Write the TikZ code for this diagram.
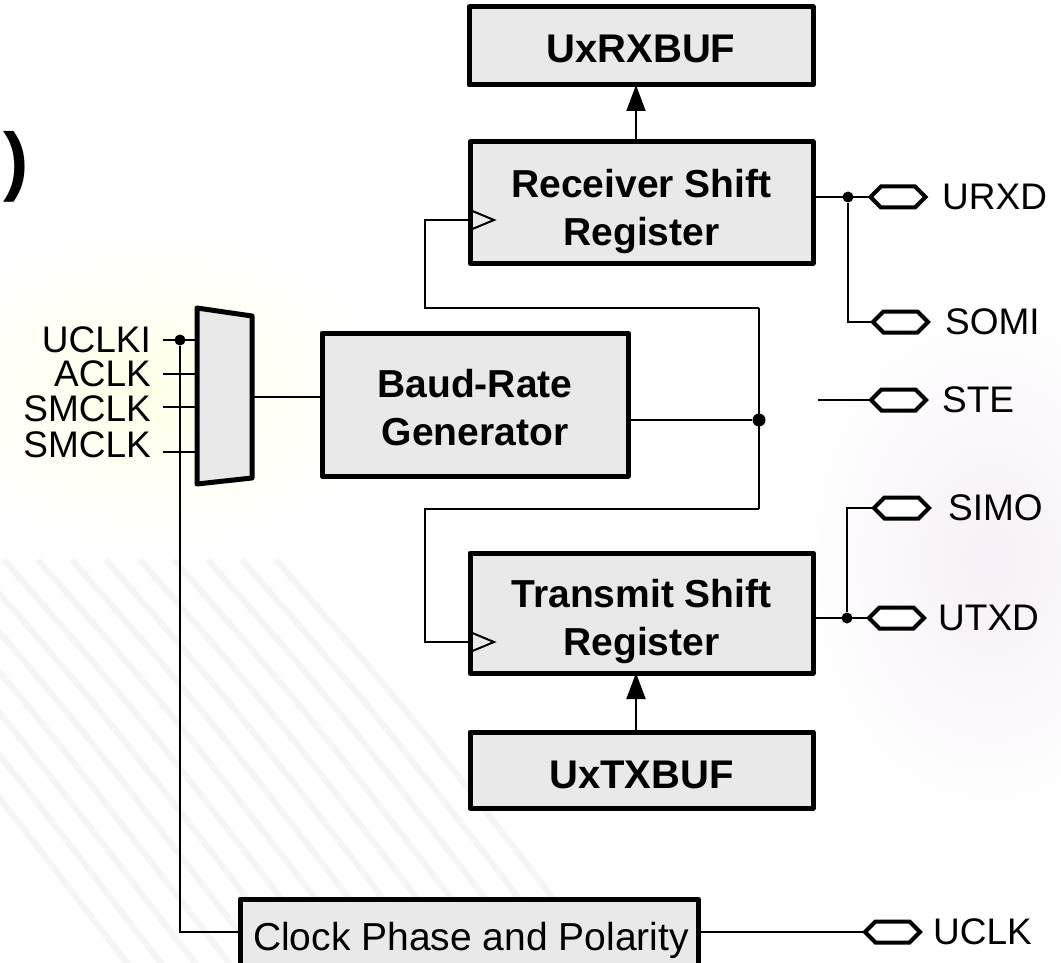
\documentclass[tikz,border=0pt]{standalone}
\usepackage{fontspec}
\setmainfont{Liberation Sans}
\usetikzlibrary{arrows.meta,shapes.symbols}
\definecolor{boxgray}{HTML}{E9E9E9}
\newcommand{\tworows}[2]{\rule{0pt}{30pt}#1\\#2\rule[-12pt]{0pt}{12pt}}
\begin{document}
\begin{tikzpicture}[x=1pt,y=-1pt,
  blk/.style={draw=black, line width=5pt, fill=boxgray, line join=round, inner sep=0pt, outer sep=0pt},
  wire/.style={line width=2pt},
  boxtxt/.style={font=\fontsize{39}{48}\selectfont\bfseries, align=center, inner sep=0pt},
  buftxt/.style={font=\fontsize{40}{48}\selectfont\bfseries, inner sep=0pt},
  lbl/.style={font=\fontsize{37}{44}\selectfont, inner sep=0pt},
  pinhex/.style={signal, signal to=west and east, signal pointer angle=90, draw=black,
    line width=4pt, fill=white, minimum width=55pt, minimum height=21pt, inner sep=0pt, outer sep=0pt},
  dot/.style={circle, fill=black, inner sep=0pt, minimum size=11pt},
  uparrow/.style={-{Triangle[length=26pt,width=19pt]}, line width=2pt},
]
\useasboundingbox (0,0) rectangle (1061,963);
\clip (0,0) rectangle (1061,963);

% soft slide background
\fill[white] (0,0) rectangle (1061,963);
\shade[inner color=yellow!9, outer color=white] (150,390) ellipse (240pt and 160pt);
\shade[inner color=violet!6, outer color=white] (990,560) ellipse (190pt and 260pt);
\foreach \i in {0,...,14}
  \draw[black!4, line width=6pt] (-200+\i*34,560) .. controls (-60+\i*34,720) .. (140+\i*34,980);

% title fragment at the left edge
\node[font=\fontsize{76}{80}\selectfont\bfseries, inner sep=0pt, anchor=base west] (paren) at (3,186) {)};

% main blocks
\node[blk, minimum width=344pt, minimum height=78pt] (rxbuf) at (641,46) {};
\node[buftxt, anchor=base] (rxbuft) at (641,63) {UxRXBUF};

\node[blk, minimum width=343pt, minimum height=121pt] (rx) at (641.5,202.5) {};
\node[boxtxt] (rxt) at (641.5,212) {\tworows{Receiver Shift}{Register}};

\node[blk, minimum width=306pt, minimum height=143pt] (baud) at (475,404.5) {};
\node[boxtxt] (baudt) at (475,412) {\tworows{Baud-Rate}{Generator}};

\node[blk, minimum width=343pt, minimum height=120pt] (tx) at (641.5,613) {};
\node[boxtxt] (txt) at (641.5,622) {\tworows{Transmit Shift}{Register}};

\node[blk, minimum width=343pt, minimum height=76pt] (txbuf) at (641.5,770) {};
\node[buftxt, anchor=base] (txbuft) at (641.5,788) {UxTXBUF};

\node[blk, minimum width=458pt, minimum height=76pt] (clk) at (469,937) {};
\node[lbl, font=\fontsize{39}{44}\selectfont, anchor=base] (clkt) at (471,950) {Clock Phase and Polarity};

% clock source selector
\coordinate (m1) at (197,340);
\coordinate (m2) at (197,374);
\coordinate (m3) at (197,407);
\coordinate (m4) at (197,452);
\coordinate (i1) at (163,340);
\coordinate (i2) at (163,374);
\coordinate (i3) at (163,407);
\coordinate (i4) at (163,452);
\draw[wire] (i1) -- (m1);
\draw[wire] (i2) -- (m2);
\draw[wire] (i3) -- (m3);
\draw[wire] (i4) -- (m4);
\node[dot, minimum size=11pt] (j0) at (180,340) {};
\coordinate (cpy) at (0,932);
\draw[wire] (j0) |- (clk.west |- cpy);
\draw[blk] (197,308) -- (252,316) -- (252,478) -- (197,484) -- cycle;
\node[lbl, anchor=base east] (l1) at (151,352) {UCLKI};
\node[lbl, anchor=base east] (l2) at (151,386) {ACLK};
\node[lbl, anchor=base east] (l3) at (151,421) {SMCLK};
\node[lbl, anchor=base east] (l4) at (151,457) {SMCLK};
\coordinate (mout) at (252,397);
\draw[wire] (mout) -- (baud.west |- mout);

% bit clock bus
\coordinate (btop) at (759,308);
\coordinate (bbot) at (759,509);
\coordinate (lx) at (425,0);
\node[dot, minimum size=13pt] (bus) at (759,420) {};
\draw[wire] (btop) -- (bbot);
\draw[wire] (baud.east |- bus) -- (bus);
\coordinate (cy1) at (0,220);
\coordinate (cy2) at (0,642);
\coordinate (rxclk) at (rx.west |- cy1);
\coordinate (txclk) at (tx.west |- cy2);
\draw[wire] (btop) -| (lx |- rxclk) -- (rxclk);
\draw[wire] (bbot) -| (lx |- txclk) -- (txclk);
\draw[wire, line join=miter] (rxclk) ++(0,-10) -- ++(24,10) -- ++(-24,10);
\draw[wire, line join=miter] (txclk) ++(0,-10) -- ++(24,10) -- ++(-24,10);

% buffer transfers
\coordinate (ax) at (636,0);
\draw[uparrow] (rx.north -| ax) -- (rxbuf.south -| ax);
\draw[uparrow] (txbuf.north -| ax) -- (tx.south -| ax);

% external pins
\node[pinhex] (urxd) at (898,197) {};
\node[pinhex] (somi) at (900.5,322) {};
\node[pinhex] (ste) at (898.5,400) {};
\node[pinhex] (simo) at (901.5,508) {};
\node[pinhex] (utxd) at (896.5,618) {};
\node[pinhex] (uclk) at (892.5,932) {};
\node[lbl, anchor=base west] (urxdt) at (942,209) {URXD};
\node[lbl, anchor=base west] (somit) at (945,334) {SOMI};
\node[lbl, anchor=base west] (stet) at (942,412) {STE};
\node[lbl, anchor=base west] (simot) at (948,520) {SIMO};
\node[lbl, anchor=base west] (utxdt) at (938,630) {UTXD};
\node[lbl, anchor=base west] (uclkt) at (933,944) {UCLK};

\node[dot, minimum size=11pt] (j1) at (848,197) {};
\draw[wire] (rx.east |- urxd) -- (urxd.west);
\draw[wire] (j1) |- (somi.west);
\coordinate (stein) at (818,400);
\draw[wire] (stein) -- (ste.west);
\node[dot, minimum size=11pt] (j2) at (847,618) {};
\draw[wire] (tx.east |- utxd) -- (utxd.west);
\draw[wire] (j2) |- (simo.west);
\draw[wire] (clk.east |- uclk) -- (uclk.west);
\end{tikzpicture}
\end{document}
